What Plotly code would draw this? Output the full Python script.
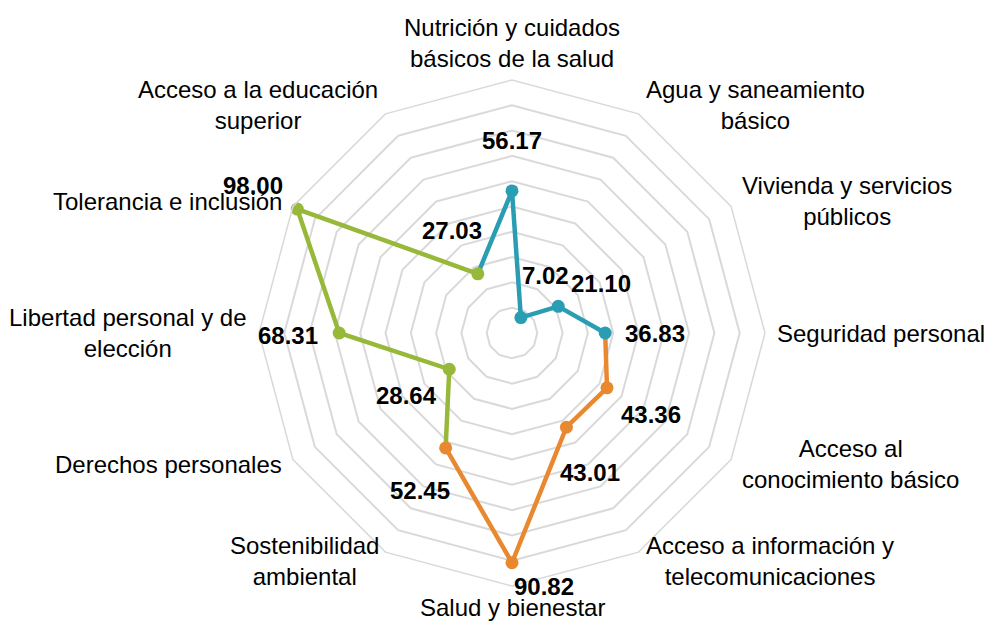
import math
import plotly.graph_objects as go

# ---------------- data ----------------
CATEGORIES = [
    "Nutrición y cuidados<br>básicos de la salud",
    "Agua y saneamiento<br>básico",
    "Vivienda y servicios<br>públicos",
    "Seguridad personal",
    "Acceso al<br>conocimiento básico",
    "Acceso a información y<br>telecomunicaciones",
    "Salud y bienestar",
    "Sostenibilidad<br>ambiental",
    "Derechos personales",
    "Libertad personal y de<br>elección",
    "Tolerancia e inclusión",
    "Acceso a la educación<br>superior",
]
VALUES = [56.17, 7.02, 21.10, 36.83, 43.36, 43.01, 90.82, 52.45, 28.64, 68.31, 98.00, 27.03]
GROUPS = [0, 0, 0, 0, 1, 1, 1, 1, 2, 2, 2, 2]
VALUE_LABELS = ["56.17", "7.02", "21.10", "36.83", "43.36", "43.01", "90.82",
                "52.45", "28.64", "68.31", "98.00", "27.03"]

# ---------------- style ----------------
GROUP_COLORS = ["#2A9DB3", "#E9892F", "#98B83A"]
GRID_COLOR = "#D9D9D9"
FONT = "Liberation Sans, Arial, sans-serif"
W, H = 984, 621
CX, CY, RPX = 512, 333, 253          # polar centre and radius in pixels
RMAX = 100
# pixel offsets of the value labels from their points
LABEL_OFFSETS = [(0, -50), (25, -42), (43, -23), (50, 0), (44, 27), (24, 45),
                 (32, 24), (-26, 43), (-43, 26), (-51, 2), (-44, -24), (-26, -43)]
CAT_PAD = 10
CAT_PAD_V = 6

n = len(CATEGORIES)
fig = go.Figure()

# lines: each segment takes the colour of the point it ends in
for g, col in enumerate(GROUP_COLORS):
    idx = [i for i in range(n) if GROUPS[i] == g]
    seg = [(idx[0] - 1) % n] + idx
    fig.add_trace(go.Scatterpolar(
        r=[VALUES[i] for i in seg], theta=[CATEGORIES[i] for i in seg],
        mode="lines", line=dict(color=col, width=4.5),
        hoverinfo="skip", showlegend=False))
for g, col in enumerate(GROUP_COLORS):
    idx = [i for i in range(n) if GROUPS[i] == g]
    fig.add_trace(go.Scatterpolar(
        r=[VALUES[i] for i in idx], theta=[CATEGORIES[i] for i in idx],
        mode="markers", marker=dict(color=col, size=13),
        showlegend=False))


def to_paper(px, py):
    return px / W, 1 - py / H


annotations = []
for i in range(n):
    ang = math.radians(i * 360 / n)
    sx, sy = math.sin(ang), -math.cos(ang)
    # value labels
    rp = VALUES[i] / RMAX * RPX
    dx, dy = LABEL_OFFSETS[i]
    x, y = to_paper(CX + rp * sx + dx, CY + rp * sy + dy)
    annotations.append(dict(
        x=x, y=y, xref="paper", yref="paper", text="<b>" + VALUE_LABELS[i] + "</b>",
        showarrow=False, xanchor="center", yanchor="middle",
        font=dict(family=FONT, size=24, color="#000000")))
    # category labels
    vertical = abs(sx) <= 0.1
    d = RPX + (CAT_PAD_V if vertical else CAT_PAD)
    x, y = to_paper(CX + d * sx, CY + d * sy)
    if sx > 0.1:
        xa = "left"
    elif sx < -0.1:
        xa = "right"
    else:
        xa = "center"
    if vertical:
        ya = "bottom" if sy < 0 else "top"
    else:
        ya = "middle"
    annotations.append(dict(
        x=x, y=y, xref="paper", yref="paper", text=CATEGORIES[i],
        showarrow=False, xanchor=xa, yanchor=ya, align="center",
        font=dict(family=FONT, size=24, color="#000000")))

fig.update_layout(
    width=W, height=H,
    margin=dict(l=0, r=0, t=0, b=0),
    paper_bgcolor="white", plot_bgcolor="white",
    showlegend=False,
    polar=dict(
        domain=dict(x=[(CX - RPX) / W, (CX + RPX) / W],
                    y=[1 - (CY + RPX) / H, 1 - (CY - RPX) / H]),
        bgcolor="white",
        gridshape="linear",
        radialaxis=dict(range=[0, RMAX], dtick=10, tick0=0, showticklabels=False,
                        ticks="", showline=False, showgrid=True,
                        gridcolor=GRID_COLOR, gridwidth=1.5),
        angularaxis=dict(type="category", categoryarray=CATEGORIES,
                         rotation=90, direction="clockwise",
                         showticklabels=False, ticks="", showgrid=False,
                         showline=True, linecolor=GRID_COLOR, linewidth=1.5),
    ),
    annotations=annotations,
)

fig.write_html(
    "out.html",
    config={"displayModeBar": False},
    post_script="document.body.style.margin='0';document.body.style.overflow='hidden';",
)
